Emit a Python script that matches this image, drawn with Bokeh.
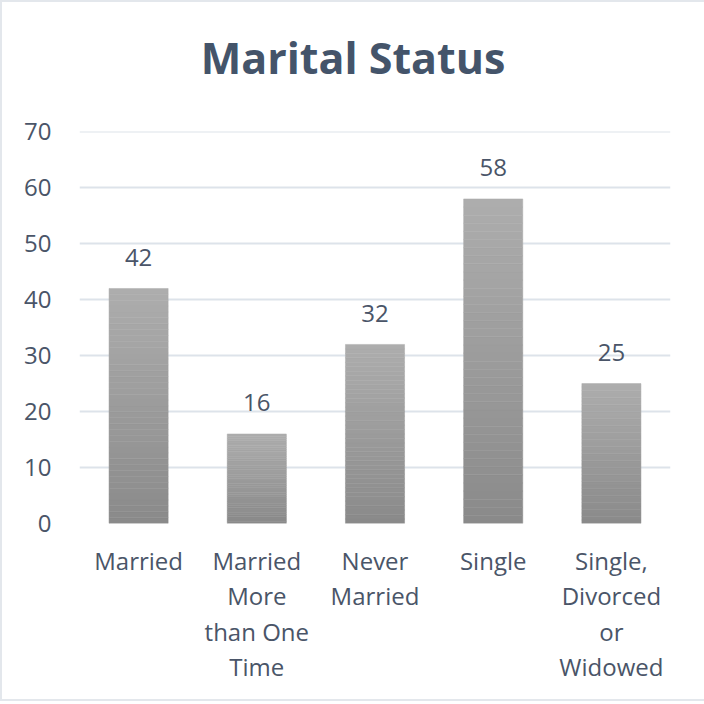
from bokeh.plotting import figure
from bokeh.models import Range1d, FixedTicker, ColumnDataSource, Div
from bokeh.layouts import column
from bokeh.core.properties import value
from bokeh.embed import file_html
from bokeh.resources import INLINE

title_text = "Marital Status"
categories = ["Married", "Married\nMore\nthan One\nTime", "Never\nMarried", "Single", "Single,\nDivorced\nor\nWidowed"]
counts = [42, 16, 32, 58, 25]
y_ticks = [0, 10, 20, 30, 40, 50, 60, 70]

FONT = "Open Sans"
TEXT = "#4a5568"

title = Div(text=title_text, width=692, height=80,
            styles={"font-family": FONT, "font-size": "43px", "font-weight": "bold",
                    "color": "#44546A", "text-align": "center", "line-height": "59px",
                    "padding-top": "21px", "box-sizing": "border-box", "width": "692px"})

p = figure(width=692, height=607, x_range=categories, y_range=Range1d(0, 70.05),
           output_backend="svg", toolbar_location=None, tools="")
p.min_border_left = 77
p.min_border_right = 24
p.min_border_top = 39
p.min_border_bottom = 176
p.outline_line_color = None
p.background_fill_color = "white"
p.border_fill_color = "white"

# gradient bars from slices
N = 40
xs, bottoms, tops, colors = [], [], [], []
c_bot = (0x8a, 0x8a, 0x8a)
c_top = (0xad, 0xad, 0xad)
for cat, v in zip(categories, counts):
    for i in range(N):
        t = (i + 0.5) / N
        col = tuple(int(round(c_bot[k] + (c_top[k] - c_bot[k]) * t)) for k in range(3))
        xs.append(cat)
        bottoms.append(v * i / N)
        tops.append(v * (i + 1) / N)
        colors.append("#%02x%02x%02x" % col)
p.vbar(x=xs, bottom=bottoms, top=tops, width=0.5, fill_color=colors, line_color=colors, line_width=0.5)

src = ColumnDataSource(dict(x=categories, y=counts, t=[str(c) for c in counts]))
p.text(x="x", y="y", text="t", source=src, text_align="center", text_baseline="alphabetic",
       y_offset=-31, text_font=value(FONT), text_font_size="24px", text_color=TEXT)

p.xgrid.grid_line_color = None
p.ygrid.grid_line_color = "#dde3ea"
p.ygrid.grid_line_width = 2
p.yaxis.ticker = FixedTicker(ticks=y_ticks)

for ax in (p.xaxis, p.yaxis):
    ax.axis_line_color = None
    ax.major_tick_line_color = None
    ax.minor_tick_line_color = None
    ax.major_label_text_font = FONT
    ax.major_label_text_font_size = "24px"
    ax.major_label_text_color = TEXT

p.yaxis.major_label_standoff = 22
p.xaxis.major_label_standoff = 14
p.xaxis.major_label_text_line_height = 1.08

layout = column(title, p, spacing=0,
                styles={"border": "2px solid #e3e7ec", "background-color": "white"})

open("out.html", "w").write(file_html(layout, INLINE))
